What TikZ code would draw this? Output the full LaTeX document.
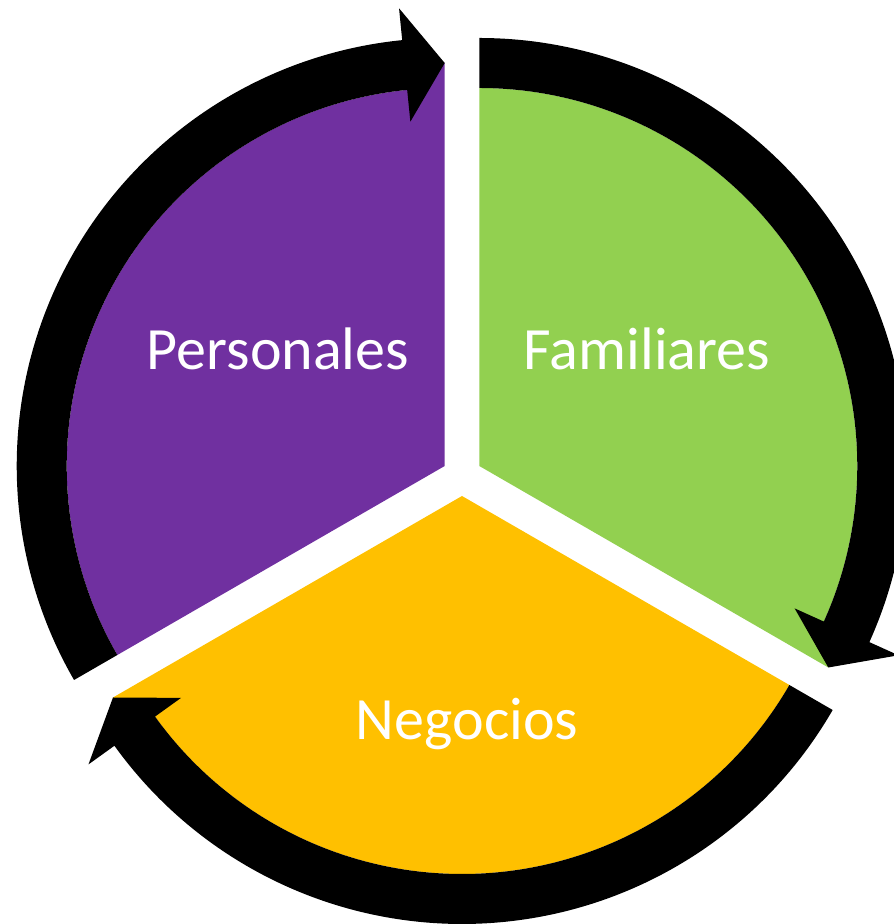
\documentclass[tikz,border=0pt]{standalone}
\usepackage{fontspec}
\setmainfont{Carlito}
\usetikzlibrary{calc}

\definecolor{Morado}{HTML}{7030A0}
\definecolor{Verde}{HTML}{92D050}
\definecolor{Amarillo}{HTML}{FFC000}

\tikzset{
  sector text/.style={text=white, anchor=base, inner sep=0pt, font=\fontsize{17.07pt}{20pt}\selectfont},
  ring arrow/.style={fill=black}
}

\begin{document}
\begin{tikzpicture}[x=0.01cm,y=0.01cm]

\clip (0,0) rectangle (894,924);

\path (444.7,458) coordinate (PersonalesC);
\path (479.3,458) coordinate (FamiliaresC);
\path (462,428) coordinate (NegociosC);

\fill [Morado] (PersonalesC) -- ++(90:403) arc [start angle=90, end angle=95.7, radius=403]
  -- ($(PersonalesC)+(95.7:378)$) arc [start angle=95.7, end angle=210, radius=378] -- cycle;
\fill [Verde] (FamiliaresC) -- ++(90:378) arc [start angle=90, end angle=-24.3, radius=378]
  -- ($(FamiliaresC)+(-24.3:403)$) arc [start angle=-24.3, end angle=-30, radius=403] -- cycle;
\fill [Amarillo] (NegociosC) -- ++(-30:378) arc [start angle=-30, end angle=-144.3, radius=378]
  -- ($(NegociosC)+(-144.3:403)$) arc [start angle=-144.3, end angle=-150, radius=403] -- cycle;

\fill [ring arrow] ($(PersonalesC)+(210:378)$) arc [start angle=210, end angle=95.7, radius=378]
  -- ($(PersonalesC)+(95.7:346)$) -- ($(PersonalesC)+(90:403)$) -- ($(PersonalesC)+(95.7:460)$)
  -- ($(PersonalesC)+(95.7:428)$) arc [start angle=95.7, end angle=210, radius=428] -- cycle;

\fill [ring arrow] ($(FamiliaresC)+(90:378)$) arc [start angle=90, end angle=-24.3, radius=378]
  -- ($(FamiliaresC)+(-24.3:346)$) -- ($(FamiliaresC)+(-30:403)$) -- ($(FamiliaresC)+(-24.3:460)$)
  -- ($(FamiliaresC)+(-24.3:428)$) arc [start angle=-24.3, end angle=90, radius=428] -- cycle;

\fill [ring arrow] ($(NegociosC)+(-30:378)$) arc [start angle=-30, end angle=-144.3, radius=378]
  -- ($(NegociosC)+(-144.3:346)$) -- ($(NegociosC)+(-150:403)$) -- ($(NegociosC)+(-144.3:460)$)
  -- ($(NegociosC)+(-144.3:428)$) arc [start angle=-144.3, end angle=-30, radius=428] -- cycle;

\node [sector text] (personales) at (278,554) {Personales};
\node [sector text] (familiares) at (647,554) {Familiares};
\node [sector text] (negocios) at (467,184) {Negocios};
\end{tikzpicture}
\end{document}
